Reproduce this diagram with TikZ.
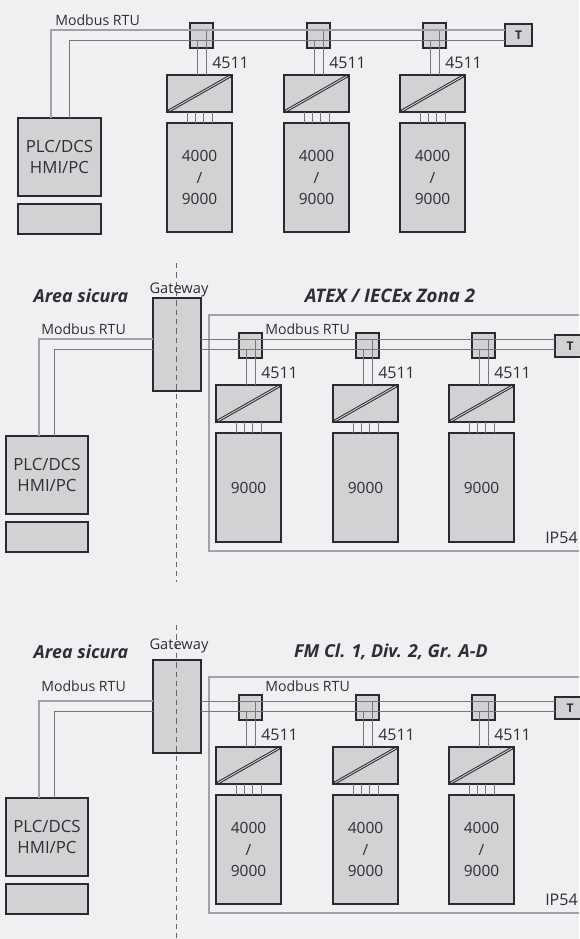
\documentclass[tikz,border=0pt]{standalone}
\usepackage{fontspec}
\setmainfont{Open Sans}
\usetikzlibrary{calc}
\definecolor{bgc}{HTML}{F0F0F3}
\definecolor{boxc}{HTML}{D2D2D4}
\definecolor{linec}{HTML}{2A2A2F}
\definecolor{wirec}{HTML}{77777B}
\definecolor{wirel}{HTML}{A2A2A6}
\definecolor{textc}{HTML}{2E2E33}
\tikzset{
 x=0.75pt,y=-0.75pt,
 blk/.style={draw=linec,fill=boxc,line width=1.35pt,inner sep=0pt,outer sep=0pt,rectangle,text=textc,align=center,font=\fontsize{11.6}{16}\selectfont},
 plc/.style={font=\fontsize{12.6}{16}\selectfont},
 wire/.style={draw=wirec,line width=0.75pt},
 wireo/.style={draw=wirel,line width=0.95pt},
 lbl/.style={text=textc,inner sep=0pt,font=\fontsize{12}{13}\selectfont},
 small/.style={text=textc,inner sep=0pt,font=\fontsize{10.6}{12}\selectfont},
 gatel/.style={text=textc,inner sep=0pt,font=\fontsize{11}{12}\selectfont},
 ttl/.style={text=textc,inner sep=0pt,font=\fontsize{13.4}{14}\selectfont\bfseries\itshape},
 wbox/.style={draw=wirel,line width=0.95pt},
 dash line/.style={draw=wirec!85!black,line width=0.6pt,dash pattern=on 4pt off 3pt}
}
% name, x1, y1, x2, y2, node text, extra style
\newcommand{\bx}[7][]{%
 \pgfmathsetmacro{\bw}{((#5)-(#3))*0.75}\pgfmathsetmacro{\bh}{((#6)-(#4))*0.75}%
 \node[blk,#1,minimum width=\bw pt,minimum height=\bh pt] (#2) at ({((#3)+(#5))/2},{((#4)+(#6))/2}) {#7};}
% prefix, converter left x, module top, converter top, drive top, drive text
\newcommand{\chan}[6]{%
 \pgfmathsetmacro{\mx}{(#2)+23}%
 \bx{#1m}{\mx}{#3}{\mx+23}{(#3)+25}{}
 \bx{#1c}{#2}{#4}{(#2)+65}{(#4)+37}{}
 \bx{#1d}{#2}{#5}{(#2)+65}{(#5)+109}{#6}
 \draw[wire] ($(#1m.south west)+(7,-8)$) -- ($(#1c.north west)+(30,0)$);
 \draw[wire] ($(#1m.north west)+(16,7)$) -- ($(#1c.north west)+(39,0)$);
 \foreach \k in {20,28,36,45}{\draw[wire] ($(#1c.south west)+(\k,0)$) -- ($(#1d.north west)+(\k,0)$);}
 \draw[draw=linec,line width=2.2pt,shorten <=1pt,shorten >=1pt] (#1c.south west) -- (#1c.north east);
 \draw[draw=boxc,line width=0.7pt,shorten <=2pt,shorten >=2pt] (#1c.south west) -- (#1c.north east);
 \node[lbl,anchor=west] (#1l) at ($(#1m.south east)+(-1,15)$) {4511};
}
\begin{document}
\begin{tikzpicture}
\useasboundingbox[fill=bgc] (0,0) rectangle (579,939);
% --- top
\bx[plc]{pa}{18}{118}{101}{196}{PLC/DCS\\HMI/PC}
\bx{pas}{18}{204}{101}{234}{}
\coordinate (a1) at (51,30); \coordinate (a2) at (69,40);
\bx{ta}{505}{24}{532}{46}{\fontsize{9}{10}\selectfont\bfseries T}
\node[small,anchor=west] (mba) at (55,20) {Modbus RTU};
\chan{a}{167}{23}{75}{123}{4000\\/\\9000}
\chan{b}{284}{23}{75}{123}{4000\\/\\9000}
\chan{c}{400}{23}{75}{123}{4000\\/\\9000}
\draw[wireo] (pa.north west -| a1) -- (a1) -- (ta.west |- a1);
\draw[wire] (pa.north west -| a2) -- (a2) -- (ta.west |- a2);
% --- sections 2 and 3
\foreach \s/\o/\ttx/\tx/\dr/\tl/\la/\lb in {
 b/0/{\fontsize{14}{15}\selectfont ATEX / IECEx Zona 2}/390/{9000}/296/329/329,
 c/362/{FM Cl. 1, Div. 2, Gr. A-D}/391/{4000\\/\\9000}/652/686/686}{
 \draw[wbox] (579,315+\o) -- (209,315+\o) -- (209,551+\o) -- (579,551+\o);
 \coordinate (\s dt) at (176.5,263+\o); \coordinate (\s db) at (176.5,582+\o);
 \bx{\s g}{153}{298+\o}{201}{391+\o}{}
 \bx[plc]{\s p}{6}{436+\o}{88}{514+\o}{PLC/DCS\\HMI/PC}
 \bx{\s ps}{6}{522+\o}{88}{552+\o}{}
 \bx{\s t}{555}{335+\o}{585}{357+\o}{\fontsize{9}{10}\selectfont\bfseries T}
 \coordinate (\s 1) at (39,339+\o); \coordinate (\s 2) at (54,349+\o);
 \chan{\s x}{216}{333+\o}{385+\o}{433+\o}{\dr}
 \chan{\s y}{333}{333+\o}{385+\o}{433+\o}{\dr}
 \chan{\s z}{449}{333+\o}{385+\o}{433+\o}{\dr}
 \draw[wireo] (\s p.north west -| \s 1) -- (\s 1) -- (\s g.west |- \s 1);
 \draw[wire] (\s p.north west -| \s 2) -- (\s 2) -- (\s g.west |- \s 2);
 \draw[wire] (\s g.east |- \s 1) -- (\s t.west |- \s 1);
 \draw[wire] (\s g.east |- \s 2) -- (\s t.west |- \s 2);
 \draw[dash line] (\s dt) -- (\s db);
 \node[gatel] (\s gl) at (179,\tl-6) {Gateway};
 \node[ttl] (\s as) at (81,\tl) {Area sicura};
 \node[ttl] (\s tt) at (\tx,\tl) {\ttx};
 \node[small,anchor=west] (\s m1) at (41,\la) {Modbus RTU};
 \node[small,anchor=west] (\s m2) at (265,\lb) {Modbus RTU};
 \node[lbl,anchor=west] (\s ip) at (545,538+\o) {IP54};
}
\end{tikzpicture}
\end{document}
